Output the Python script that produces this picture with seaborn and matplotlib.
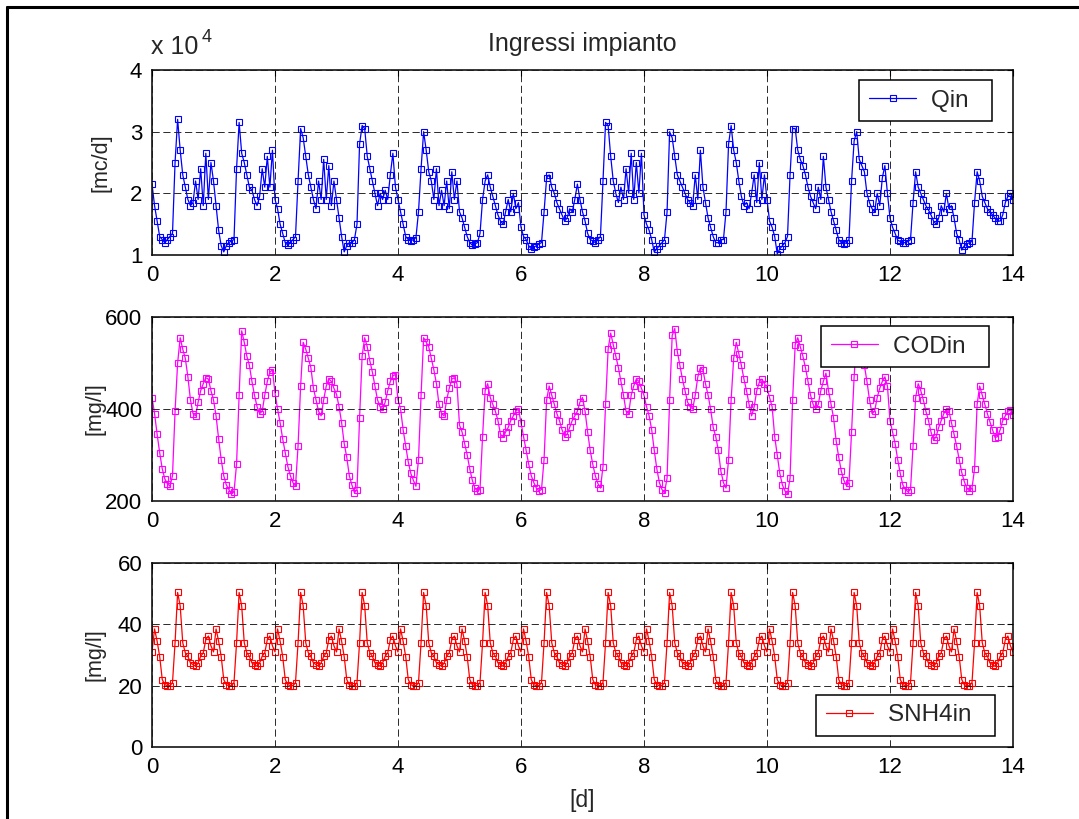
import numpy as np
import seaborn as sns
import matplotlib.pyplot as plt
from matplotlib.lines import Line2D

# Plant influent, hourly samples over 14 days (last entry is t = 14 d)
# Influent flow rate [m3/d]
qin = [
    21500, 18000, 15500, 13000, 12500, 12000, 12500, 13000, 13500, 25000, 32000, 27000,
    23000, 21000, 19000, 18000, 18500, 22000, 19000, 24000, 18000, 26500, 19000, 25000,
    22000, 18000, 14000, 11500, 10500, 11500, 12000, 12300, 12500, 24000, 31500, 26500,
    25000, 23000, 21000, 20500, 19000, 18000, 19500, 24000, 21000, 26000, 21000, 27000,
    19000, 17500, 15000, 13500, 12000, 11600, 12000, 12500, 13000, 22000, 30500, 29000,
    26000, 23000, 21000, 19000, 17500, 22000, 19000, 25500, 19000, 24500, 18000, 22000,
    19000, 16000, 13000, 10500, 11500, 12000, 12000, 12500, 15000, 28000, 31000, 30500,
    26000, 24000, 22000, 20000, 18000, 20000, 19000, 20500, 19000, 23000, 26500, 21000,
    19000, 17000, 15000, 13000, 12500, 12300, 12500, 12800, 17000, 24000, 30000, 27000,
    23500, 22000, 19000, 24000, 18000, 20500, 18000, 22000, 17500, 23500, 19000, 22000,
    17000, 16000, 14500, 13000, 12000, 11600, 11800, 12000, 13500, 19000, 22000, 23000,
    21000, 19500, 18000, 16500, 15500, 15000, 17000, 19000, 17000, 20000, 17500, 18500,
    14500, 13000, 12500, 11500, 11000, 11300, 11500, 11800, 12000, 17000, 22500, 23000,
    21000, 20000, 18500, 17500, 16500, 15500, 16000, 17500, 17000, 19000, 21500, 19000,
    17000, 15500, 13500, 12500, 12300, 12000, 12500, 13000, 22000, 31500, 31000, 26000,
    22000, 20000, 18500, 21000, 19000, 24000, 20000, 26500, 19000, 25000, 20000, 26500,
    16500, 15000, 14000, 12500, 10500, 11000, 11500, 12000, 12500, 17000, 30000, 29000,
    26000, 23000, 22000, 21000, 20000, 19000, 18500, 18000, 23000, 19000, 27000, 21000,
    18500, 16000, 14500, 13000, 12000, 12000, 12500, 12500, 17000, 28000, 31000, 27000,
    25000, 22000, 19500, 18000, 18500, 17500, 20000, 23000, 18500, 25000, 19000, 23000,
    19000, 15500, 14500, 13000, 10200, 11000, 11500, 12000, 13000, 23000, 30500, 30500,
    27000, 25500, 24500, 23000, 21000, 19500, 18500, 17500, 21000, 19000, 26000, 21000,
    19000, 17000, 15500, 14000, 12500, 12000, 11800, 12000, 12500, 22000, 28500, 30000,
    25500, 24500, 23500, 20000, 18500, 17500, 17000, 20000, 18000, 22500, 24500, 20000,
    16000, 14500, 13500, 12400, 12200, 12000, 12000, 12200, 12500, 18500, 23500, 21000,
    20000, 19000, 18000, 17300, 16500, 15500, 15000, 16000, 18000, 17000, 20000, 17500,
    18000, 16000, 13500, 12400, 10800, 11500, 11800, 12000, 12200, 18500, 23500, 22000,
    19500, 18500, 17500, 17000, 16500, 16000, 15500, 15500, 16500, 18500, 19500, 20000,
    19000,
]

# Influent COD [mg/l]
cod = [
    425, 390, 345, 305, 270, 248, 238, 232, 255, 395, 500, 555,
    530, 510, 470, 420, 390, 385, 415, 440, 455, 468, 465, 440,
    420, 385, 335, 290, 255, 235, 225, 215, 220, 280, 430, 570,
    545, 515, 495, 460, 430, 405, 390, 395, 430, 460, 480, 485,
    435, 400, 370, 335, 305, 275, 255, 240, 232, 320, 450, 545,
    530, 510, 490, 445, 420, 395, 385, 420, 450, 465, 460, 445,
    432, 405, 370, 325, 295, 255, 235, 218, 225, 380, 515, 555,
    535, 505, 480, 450, 420, 405, 400, 415, 440, 460, 472, 475,
    420, 400, 355, 320, 285, 260, 245, 232, 290, 430, 555, 545,
    535, 510, 485, 455, 410, 390, 385, 420, 445, 465, 468, 455,
    365, 350, 325, 300, 270, 245, 228, 222, 225, 340, 440, 455,
    425, 410, 395, 375, 345, 338, 350, 360, 375, 385, 395, 400,
    370, 340, 310, 280, 255, 240, 228, 222, 225, 290, 420, 450,
    430, 410, 390, 375, 355, 340, 345, 360, 375, 385, 395, 415,
    425, 395, 350, 310, 280, 255, 238, 228, 275, 410, 530, 565,
    540, 515, 490, 460, 430, 395, 390, 430, 450, 465, 460, 445,
    430, 405, 385, 355, 310, 270, 240, 225, 218, 250, 420, 560,
    575, 525, 495, 465, 440, 415, 405, 400, 430, 470, 490, 485,
    455, 430, 400, 360, 340, 310, 265, 240, 228, 290, 420, 510,
    545, 520, 495, 465, 440, 410, 385, 405, 440, 458, 465, 455,
    445, 425, 405, 340, 300, 260, 235, 222, 215, 250, 420, 540,
    555, 535, 515, 490, 460, 430, 410, 400, 410, 440, 460, 478,
    440, 410, 380, 330, 295, 265, 245, 233, 240, 350, 470, 555,
    550, 525, 495, 460, 420, 390, 395, 425, 445, 460, 470, 450,
    375, 350, 325, 290, 260, 235, 225, 220, 225, 320, 425, 455,
    440, 420, 395, 375, 350, 332, 340, 360, 375, 390, 400, 395,
    370, 345, 320, 290, 262, 242, 228, 222, 228, 270, 410, 450,
    430, 410, 390, 372, 355, 338, 340, 355, 375, 385, 395, 398,
    388,
]

# Influent ammonium SNH4 [mg/l]
snh4 = [
    31, 38.5, 34.5, 29.5, 22, 20.3, 20, 20, 21, 34, 50.4, 46, 34, 30.7, 29.6, 27.4, 26.9, 26.3, 27.4, 29.6, 30.7, 35, 36.2, 33,
    31, 38.5, 34.5, 29.5, 22, 20.3, 20, 20, 21, 34, 50.4, 46, 34, 30.7, 29.6, 27.4, 26.9, 26.3, 27.4, 29.6, 30.7, 35, 36.2, 33,
    31, 38.5, 34.5, 29.5, 22, 20.3, 20, 20, 21, 34, 50.4, 46, 34, 30.7, 29.6, 27.4, 26.9, 26.3, 27.4, 29.6, 30.7, 35, 36.2, 33,
    31, 38.5, 34.5, 29.5, 22, 20.3, 20, 20, 21, 34, 50.4, 46, 34, 30.7, 29.6, 27.4, 26.9, 26.3, 27.4, 29.6, 30.7, 35, 36.2, 33,
    31, 38.5, 34.5, 29.5, 22, 20.3, 20, 20, 21, 34, 50.4, 46, 34, 30.7, 29.6, 27.4, 26.9, 26.3, 27.4, 29.6, 30.7, 35, 36.2, 33,
    31, 38.5, 34.5, 29.5, 22, 20.3, 20, 20, 21, 34, 50.4, 46, 34, 30.7, 29.6, 27.4, 26.9, 26.3, 27.4, 29.6, 30.7, 35, 36.2, 33,
    31, 38.5, 34.5, 29.5, 22, 20.3, 20, 20, 21, 34, 50.4, 46, 34, 30.7, 29.6, 27.4, 26.9, 26.3, 27.4, 29.6, 30.7, 35, 36.2, 33,
    31, 38.5, 34.5, 29.5, 22, 20.3, 20, 20, 21, 34, 50.4, 46, 34, 30.7, 29.6, 27.4, 26.9, 26.3, 27.4, 29.6, 30.7, 35, 36.2, 33,
    31, 38.5, 34.5, 29.5, 22, 20.3, 20, 20, 21, 34, 50.4, 46, 34, 30.7, 29.6, 27.4, 26.9, 26.3, 27.4, 29.6, 30.7, 35, 36.2, 33,
    31, 38.5, 34.5, 29.5, 22, 20.3, 20, 20, 21, 34, 50.4, 46, 34, 30.7, 29.6, 27.4, 26.9, 26.3, 27.4, 29.6, 30.7, 35, 36.2, 33,
    31, 38.5, 34.5, 29.5, 22, 20.3, 20, 20, 21, 34, 50.4, 46, 34, 30.7, 29.6, 27.4, 26.9, 26.3, 27.4, 29.6, 30.7, 35, 36.2, 33,
    31, 38.5, 34.5, 29.5, 22, 20.3, 20, 20, 21, 34, 50.4, 46, 34, 30.7, 29.6, 27.4, 26.9, 26.3, 27.4, 29.6, 30.7, 35, 36.2, 33,
    31, 38.5, 34.5, 29.5, 22, 20.3, 20, 20, 21, 34, 50.4, 46, 34, 30.7, 29.6, 27.4, 26.9, 26.3, 27.4, 29.6, 30.7, 35, 36.2, 33,
    31, 38.5, 34.5, 29.5, 22, 20.3, 20, 20, 21, 34, 50.4, 46, 34, 30.7, 29.6, 27.4, 26.9, 26.3, 27.4, 29.6, 30.7, 35, 36.2, 33,
    31,
]

x_ticks = [0, 2, 4, 6, 8, 10, 12, 14]
qin_ticks = [1, 2, 3, 4]          # x 10^4
cod_ticks = [200, 400, 600]
snh4_ticks = [0, 20, 40, 60]

t = np.arange(len(qin)) / 24.0    # time [d]

sns.set_theme(style="white")
plt.rcParams["font.family"] = ["Liberation Sans", "DejaVu Sans"]

W, H = 1079, 819
fig = plt.figure(figsize=(W / 100, H / 100), dpi=100)


def px_axes(top, bottom, left=152, right=1013):
    return fig.add_axes([left / W, 1 - bottom / H, (right - left) / W, (bottom - top) / H])


ax1 = px_axes(70, 255)
ax2 = px_axes(317, 501)
ax3 = px_axes(563, 747)

# trailing blanks give the legend boxes their wider right margin
series = [
    (ax1, np.array(qin) / 1e4, "blue", "Qin  ", (1, 4), qin_ticks),
    (ax2, cod, "magenta", "CODin  ", (200, 600), cod_ticks),
    (ax3, snh4, "red", "SNH4in  ", (0, 60), snh4_ticks),
]

for ax, y, col, name, ylim, yt in series:
    sns.lineplot(x=t, y=y, ax=ax, color=col, linewidth=0.9, marker="s",
                 markersize=3.8, markerfacecolor="none", markeredgecolor=col,
                 markeredgewidth=0.8, label=name, estimator=None, sort=False)
    ax.set_xlim(0, 14)
    ax.set_ylim(*ylim)
    ax.set_xticks(x_ticks)
    ax.set_yticks(yt)
    ax.set_xticklabels([str(v) for v in x_ticks])
    ax.set_yticklabels([str(v) for v in yt])
    ax.grid(True, color="#1a1a1a", linestyle=(0, (8, 4)), linewidth=0.65)
    ax.set_axisbelow(False)
    for s in ax.spines.values():
        s.set_visible(True)
        s.set_color("black")
        s.set_linewidth(1.1)
    ax.tick_params(direction="in", length=4, width=0.8, top=True, right=True,
                   labelsize=16, colors="black", pad=7)
    ax.set_xlabel("")
    ax.set_ylabel("")

leg_kw = dict(frameon=True, fancybox=False, shadow=False, numpoints=1,
              fontsize=17.5, handlelength=1.95, handletextpad=0.62,
              borderpad=0.4, borderaxespad=0)
for ax, loc, anchor in [(ax1, "upper right", (0.976, 0.946)),
                        (ax2, "upper right", (0.972, 0.951)),
                        (ax3, "lower right", (0.979, 0.060))]:
    lg = ax.legend(loc=loc, bbox_to_anchor=anchor, **leg_kw)
    lg.get_frame().set_edgecolor("black")
    lg.get_frame().set_linewidth(1.1)
    lg.get_frame().set_facecolor("white")
    lg.get_frame().set_alpha(1)

for ax, lab, xc in [(ax1, "[mc/d]", 101), (ax2, "[mg/l]", 95), (ax3, "[mg/l]", 95)]:
    ax.set_ylabel(lab, fontsize=15.5, va="center")
    ax.yaxis.set_label_coords((xc - 152) / 861, 0.5)

ax3.set_xlabel("[d]", fontsize=16.5, va="center")
ax3.xaxis.set_label_coords(0.5, -(800 - 747) / 184)

ax1.set_title("Ingressi impianto", fontsize=18, pad=14)

# exponent of the flow axis
fig.text(151 / W, 1 - 47 / H, "x 10", fontsize=18, ha="left", va="center")
fig.text(202 / W, 1 - 37 / H, "4", fontsize=13, ha="left", va="center")

# figure frame
fig.add_artist(Line2D([6.5 / W, 1], [1 - 6.5 / H, 1 - 6.5 / H], transform=fig.transFigure,
                      color="black", linewidth=2.2))
fig.add_artist(Line2D([6.5 / W, 6.5 / W], [0, 1 - 6.5 / H], transform=fig.transFigure,
                      color="black", linewidth=2.2))

fig.savefig("out.png", dpi=100, facecolor="white")
